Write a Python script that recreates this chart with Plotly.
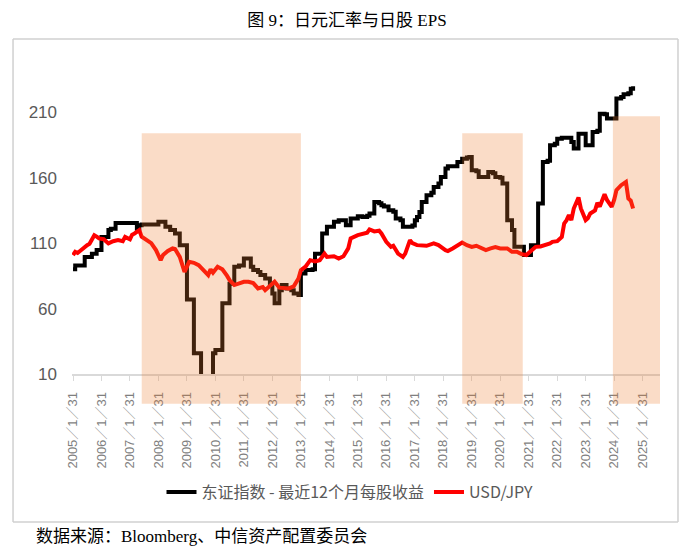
import pandas as pd
import plotly.graph_objects as go

# ---------------- data ----------------
eps_dates = ["2005-01","2005-02","2005-06","2005-09","2005-11","2006-01","2006-04","2006-05","2006-07",
             "2007-04","2007-05","2007-06","2008-01","2008-04","2008-06","2008-08","2008-10","2009-01",
             "2009-04","2009-07","2009-12","2010-01","2010-04","2010-07","2010-09","2010-11","2011-01",
             "2011-04","2011-05","2011-07","2011-08","2011-10","2011-12","2012-01","2012-02","2012-04",
             "2012-05","2012-07","2012-09","2012-10","2012-12","2013-01","2013-03","2013-06","2013-07",
             "2013-10","2013-12","2014-03","2014-05","2014-08","2014-10","2015-01","2015-03","2015-05",
             "2015-06","2015-08","2015-10","2015-11","2015-12","2016-02","2016-04","2016-05","2016-07",
             "2016-08","2016-12","2017-01","2017-02","2017-03","2017-04","2017-06","2017-08","2017-09",
             "2017-11","2017-12","2018-02","2018-03","2018-07","2018-09","2018-11","2018-12","2019-01",
             "2019-03","2019-04","2019-08","2019-10","2019-11","2020-01","2020-02","2020-04","2020-06",
             "2020-07","2020-11","2021-01","2021-02","2021-05","2021-07","2021-09","2021-10","2021-12",
             "2022-01","2022-03","2022-07","2022-08","2022-10","2023-01","2023-04","2023-06","2023-07",
             "2023-09","2023-10","2024-02","2024-04","2024-05","2024-07","2024-08","2024-09"]
eps_values = [90, 93, 99.5, 102, 104.7, 114.8, 120, 121, 125.5,
              121, 123.7, 124.3, 126.3, 122.5, 120, 117.4, 108.5, 67,
              25.8, 0, 25.8, 28.3, 64, 79, 92, 93, 98.3,
              92, 89.4, 88, 85.6, 83, 78, 71.6, 64, 74,
              78, 75.4, 74, 71.6, 70.3, 86.9, 89.4, 90, 102,
              117.4, 122.5, 126.3, 127.6, 123.7, 128.9, 130.6, 130, 131,
              132.7, 141.5, 140.5, 139, 138, 135.2, 134, 128.9, 127.5,
              122.5, 123.5, 127.6, 130, 133.9, 141.5, 146.7, 148.5, 153,
              155.6, 160.6, 167, 168.8, 172, 174.5, 175.4, 175.9, 165.7,
              165, 160.6, 164.4, 163.5, 160.6, 160, 155.6, 127.6, 120,
              107.2, 100.9, 101, 108.5, 140.3, 172, 173, 184.8, 186,
              189.9, 190.6, 187.3, 182.3, 193.7, 184.8, 195, 196, 209,
              208.5, 205.2, 220.5, 221.7, 223.8, 224.5, 228, 229.9]

fx_dates = ["2005-01","2005-02","2005-03","2005-05","2005-07","2005-08","2005-10","2005-11","2005-12",
            "2006-02","2006-04","2006-06","2006-08","2006-10","2006-11","2007-01","2007-02","2007-03",
            "2007-05","2007-06","2007-08","2007-10","2007-12","2008-02","2008-03","2008-05","2008-07",
            "2008-08","2008-10","2008-12","2009-02","2009-04","2009-06","2009-08","2009-10","2009-11",
            "2009-12","2010-02","2010-04","2010-06","2010-07","2010-09","2010-11","2011-01","2011-03",
            "2011-05","2011-07","2011-09","2011-10","2011-12","2012-02","2012-04","2012-06","2012-08",
            "2012-10","2012-12","2013-01","2013-03","2013-05","2013-07","2013-09","2013-11","2013-12",
            "2014-03","2014-05","2014-07","2014-09","2014-10","2015-01","2015-03","2015-05","2015-06",
            "2015-08","2015-10","2015-11","2016-01","2016-03","2016-04","2016-06","2016-08","2016-09",
            "2016-11","2016-12","2017-02","2017-04","2017-06","2017-09","2017-11","2018-02","2018-03",
            "2018-05","2018-07","2018-09","2018-11","2019-01","2019-03","2019-05","2019-07","2019-09",
            "2019-11","2020-01","2020-04","2020-06","2020-08","2020-10","2020-12","2021-02","2021-04",
            "2021-06","2021-08","2021-10","2021-11","2022-01","2022-03","2022-04","2022-05","2022-06",
            "2022-07","2022-08","2022-10","2022-11","2023-01","2023-02","2023-03","2023-05","2023-06",
            "2023-07","2023-09","2023-10","2023-12","2024-01","2024-02","2024-04","2024-06","2024-07",
            "2024-08","2024-09"]
fx_values = [100.9, 103.4, 102.5, 106, 108.5, 109.5, 116.1, 115, 113.6,
             113, 109.8, 111.5, 112.3, 111.5, 114.8, 113, 116.5, 117.4,
             120, 115, 112.3, 110, 104.7, 97, 101, 104, 106,
             105.5, 99.5, 88.1, 95.7, 95, 93.2, 89.4, 85.6, 90,
             87.5, 92, 90, 85, 81.8, 78, 79, 80.5, 80.5,
             79.5, 75.4, 76.5, 74.1, 77, 80.5, 76, 75.4, 75.4,
             77, 83, 89.4, 92, 97, 96, 97, 102, 99.5,
             100, 98.3, 100, 106, 113.6, 116.1, 117, 118, 120.5,
             119, 119.5, 117.4, 111, 107.2, 108, 102, 99.5, 102,
             112.3, 110, 108.5, 108.5, 108, 109.8, 108.5, 104.7, 104,
             106, 108, 110.5, 108.5, 107.2, 108, 106, 104.7, 106,
             107, 106, 106, 103.4, 103.4, 101.6, 100.9, 104, 107.2,
             107.5, 108.5, 109.8, 111, 111.5, 114.8, 125, 127.6, 131.4,
             127.6, 136.5, 144.9, 136.5, 127.6, 129, 132.7, 135, 140.8,
             138, 147.4, 143, 137.7, 143, 150.5, 154.3, 156.8, 144.1,
             142.5, 136.5]

shade_starts = ["2007-07-01", "2018-10-01", "2024-01-15"]
shade_ends = ["2013-01-31", "2020-11-15", "2025-10-27"]
shade_tops = [194, 194, 207]

tick_years = list(range(2005, 2026))
tick_vals = [f"{y}-01-31" for y in tick_years]
tick_text = [f"{y}／1／31" for y in tick_years]
y_ticks = [10, 60, 110, 160, 210]

series_names = ["东证指数 - 最近12个月每股收益", "USD/JPY"]
title_text = "图 9：日元汇率与日股 EPS"
source_text = "数据来源：Bloomberg、中信资产配置委员会"

# ---------------- figure ----------------
Y_MIN, Y_MAX = 10, 250
W, H = 700, 553
OFF = 8  # page body margin of the rendered html
eps_x = pd.to_datetime(eps_dates) + pd.offsets.MonthEnd(0)
fx_x = pd.to_datetime(fx_dates) + pd.offsets.MonthEnd(0)

fig = go.Figure()
fig.add_trace(go.Scatter(x=eps_x, y=eps_values, mode="lines", name=series_names[0],
                         line=dict(color="#000000", width=4, shape="hv")))
fig.add_trace(go.Scatter(x=fx_x, y=fx_values, mode="lines", name=series_names[1],
                         line=dict(color="#FF0000", width=4)))

shapes = []
for s, e, t in zip(shade_starts, shade_ends, shade_tops):
    shapes.append(dict(type="rect", xref="x", yref="paper", x0=s, x1=e,
                       y0=-0.095, y1=(t - Y_MIN) / (Y_MAX - Y_MIN),
                       fillcolor="rgba(237,125,49,0.27)", line=dict(width=0), layer="above"))
# outer frame of the chart (four edges)
fx0, fx1, fy0, fy1 = -0.1003, 1.0306, -0.4713, 1.0669
frame_line = dict(color="#d0d0d0", width=1.5)
for (a, b, c, d) in [(fx0, fy1, fx1, fy1), (fx0, fy0, fx1, fy0), (fx0, fy0, fx0, fy1), (fx1, fy0, fx1, fy1)]:
    shapes.append(dict(type="line", xref="paper", yref="paper", x0=a, y0=b, x1=c, y1=d,
                       line=frame_line, layer="above"))

fig.update_layout(
    width=W, height=H,
    margin=dict(l=72 - OFF, r=W - (72 - OFF) - 588, t=60 - OFF, b=H - (60 - OFF) - 314, autoexpand=False),
    paper_bgcolor="white", plot_bgcolor="white",
    shapes=shapes,
    showlegend=True,
    legend=dict(orientation="h", xref="container", yref="container",
                x=(350 - OFF) / W, xanchor="center", y=1 - (492 - OFF) / H, yanchor="middle",
                font=dict(family="Noto Sans CJK SC", size=16, color="#595959"),
                bgcolor="rgba(0,0,0,0)", itemwidth=30),
    title=dict(text=title_text, x=(347 - OFF) / W, xanchor="center", y=1 - (20 - OFF) / H, yanchor="middle",
               font=dict(family="Liberation Serif, Noto Sans CJK SC", size=17, color="#000000")),
    annotations=[dict(text=source_text, xref="paper", yref="paper", x=-0.0646, y=-0.519,
                      xanchor="left", yanchor="middle", showarrow=False,
                      font=dict(family="Liberation Serif, Noto Sans CJK SC", size=17, color="#000000"))],
)
fig.update_xaxes(type="date", range=["2005-01-18", "2025-09-10"], automargin=False,
                 tickmode="array", tickvals=tick_vals, ticktext=tick_text, tickangle=-90,
                 tickfont=dict(family="Liberation Sans, Noto Sans CJK SC", size=13, color="#7f7f7f"),
                 showline=True, linecolor="#d9d9d9", linewidth=1.5,
                 ticks="outside", ticklen=5, tickcolor="#d9d9d9", tickwidth=1,
                 showgrid=False, zeroline=False, ticklabelstandoff=6)
fig.update_yaxes(range=[Y_MIN, Y_MAX], tickmode="array", tickvals=y_ticks, automargin=False,
                 tickfont=dict(family="Liberation Sans", size=17, color="#595959"),
                 showline=False, showgrid=False, zeroline=False, ticks="",
                 ticklabelstandoff=14)

fig.write_html("out.html")
